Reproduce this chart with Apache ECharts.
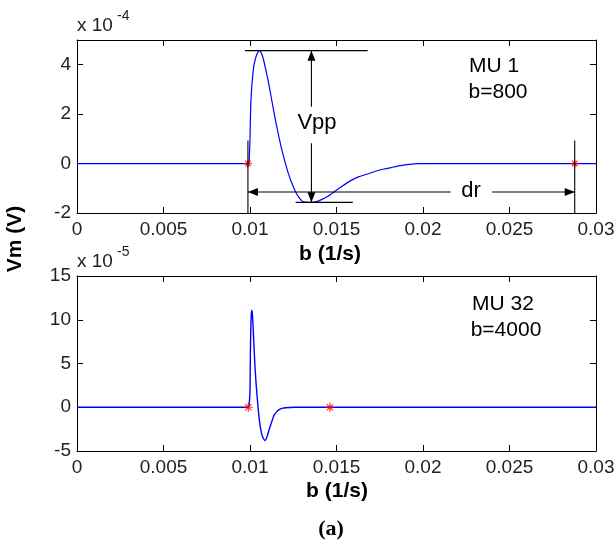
<!DOCTYPE html>
<html>
<head>
<meta charset="utf-8">
<script src="https://cdn.jsdelivr.net/npm/echarts@6/dist/echarts.min.js"></script>
<style>
html,body{margin:0;padding:0;background:#fff;}
#chart{width:616px;height:544px;}
</style>
</head>
<body>
<div id="chart"></div>
<script>
// ---- Data (x in seconds, y in units of the axis multiplier) ----
// Top panel: MU 1, b=800, values in units of 1e-4 V
const topX = [0, 0.00988, 0.00994, 0.00998, 0.01000, 0.01004, 0.01010, 0.01015, 0.01022, 0.01030, 0.01040,
  0.01052, 0.01062, 0.01072, 0.01081, 0.01095, 0.01110, 0.01130, 0.01149, 0.01168, 0.01187, 0.01205,
  0.01225, 0.01245, 0.01264, 0.01284, 0.01303, 0.01320, 0.01350, 0.01380, 0.01410, 0.01450, 0.01486,
  0.01530, 0.01582, 0.01630, 0.01679, 0.01730, 0.01775, 0.01830, 0.01871, 0.01920, 0.01970, 0.03000];
const topV = [0, 0, 0.05, 0.6, 1.0, 2.3, 3.1, 3.5, 3.95, 4.2, 4.42,
  4.57, 4.52, 4.35, 4.12, 3.68, 3.17, 2.4, 1.69, 1.05, 0.47, 0.0,
  -0.47, -0.85, -1.15, -1.38, -1.53, -1.56, -1.57, -1.55, -1.47, -1.32, -1.15,
  -0.93, -0.69, -0.53, -0.42, -0.3, -0.22, -0.14, -0.08, -0.03, 0, 0];
// Bottom panel: MU 32, b=4000, values in units of 1e-5 V
const botX = [0, 0.0099, 0.00995, 0.01000, 0.01002, 0.01006, 0.01010, 0.01014, 0.01018, 0.01023, 0.01029,
  0.01036, 0.01043, 0.01052, 0.01060, 0.01068, 0.01078, 0.01087, 0.01098, 0.01110, 0.01125, 0.01139,
  0.01155, 0.01168, 0.01190, 0.01206, 0.01260, 0.03000];
const botV = [0, 0, 0.3, 1.9, 6.0, 10.0, 11.1, 10.6, 9.2, 7.0, 4.6,
  2.5, 0.8, -1.1, -2.3, -3.1, -3.6, -3.8, -3.4, -2.6, -1.7, -0.9,
  -0.5, -0.27, -0.1, -0.05, 0, 0];
// Onset / end markers (red *)
const topMarkX = [0.00988, 0.02877];
const topMarkV = [0, 0];
const botMarkX = [0.0099, 0.01462];
const botMarkV = [0, 0];
// Tick values
const xTicks = [0, 0.005, 0.01, 0.015, 0.02, 0.025, 0.03];
const topYTicks = [-2, 0, 2, 4];
const botYTicks = [-5, 0, 5, 10, 15];
// Annotation geometry in data coordinates (top panel)
const vppX = 0.01355;          // Vpp arrow x
const vppGapTop = 2.3, vppGapBot = 0.82;  // gap for "Vpp" text
const peakLineX = [0.00971, 0.0168];
const troughLineX = [0.01264, 0.01594];
const guideTopY = 0.93;        // top of the two vertical guide lines
const drY = -1.15;             // dr arrow y
const drGapX = [0.0216, 0.0240];

const vPeak = Math.max(...topV);
const vTrough = Math.min(...topV);
const tStart = topMarkX[0], tEnd = topMarkX[1];
const yMinTop = topYTicks[0];

// segments: [x1,y1,x2,y2,arrowAtEnd]
const annoSegs = [
  [tStart, guideTopY, tStart, yMinTop, 0],
  [tEnd, guideTopY, tEnd, yMinTop, 0],
  [peakLineX[0], vPeak, peakLineX[1], vPeak, 0],
  [troughLineX[0], vTrough, troughLineX[1], vTrough, 0],
  [vppX, vppGapTop, vppX, vPeak, 1],
  [vppX, vppGapBot, vppX, vTrough, 1],
  [drGapX[0], drY, tStart, drY, 1],
  [drGapX[1], drY, tEnd, drY, 1]
];

const pair = (xs, ys) => xs.map((x, i) => [x, ys[i]]);
const fmtX = v => String(+v.toFixed(4));

const asterisk = 'path://M0,-5L0,5M-5,0L5,0M-3.5,-3.5L3.5,3.5M-3.5,3.5L3.5,-3.5';
const tickFont = {fontFamily: 'Liberation Sans, Arial, sans-serif', fontSize: 19, color: '#222'};

function xAxisDef(gridIndex, pos) {
  return {
    type: 'value', gridIndex, position: pos, min: xTicks[0], max: xTicks[xTicks.length - 1],
    interval: xTicks[1] - xTicks[0],
    axisLine: {show: true, onZero: false, lineStyle: {color: '#000', width: 1}},
    axisTick: {show: true, inside: true, length: 6, lineStyle: {color: '#000'}},
    axisLabel: Object.assign({show: pos === 'bottom', margin: 7, formatter: fmtX}, tickFont),
    splitLine: {show: false}
  };
}
function yAxisDef(gridIndex, pos, ticks, max) {
  return {
    type: 'value', gridIndex, position: pos, min: ticks[0], max: max,
    interval: ticks[1] - ticks[0],
    axisLine: {show: true, onZero: false, lineStyle: {color: '#000', width: 1}},
    axisTick: {show: true, inside: true, length: 6, lineStyle: {color: '#000'}},
    axisLabel: Object.assign({show: pos === 'left', margin: 6, showMaxLabel: max === ticks[ticks.length - 1]}, tickFont),
    splitLine: {show: false}
  };
}

function renderSeg(params, api) {
  const a = api.coord([api.value(0), api.value(1)]);
  const b = api.coord([api.value(2), api.value(3)]);
  const children = [{type: 'line', shape: {x1: a[0], y1: a[1], x2: b[0], y2: b[1]},
    style: {stroke: '#000', lineWidth: 1.1}}];
  if (api.value(4)) {
    const dx = b[0] - a[0], dy = b[1] - a[1], L = Math.hypot(dx, dy);
    const ux = dx / L, uy = dy / L, len = 10, hw = 4;
    const bx = b[0] - ux * len, by = b[1] - uy * len;
    children.push({type: 'polygon', shape: {points: [[b[0], b[1]], [bx - uy * hw, by + ux * hw], [bx + uy * hw, by - ux * hw]]},
      style: {fill: '#000'}});
  }
  return {type: 'group', children};
}

const labelFont = 'Liberation Sans, Arial, sans-serif';
function txt(text, x, y, size, bold, extra) {
  return Object.assign({type: 'text', x, y, style: {text, fontFamily: labelFont, fontSize: size,
    fontWeight: bold ? 'bold' : 'normal', fill: '#000', align: 'center', verticalAlign: 'middle'}}, extra || {});
}

const chart = echarts.init(document.getElementById('chart'), null, {renderer: 'canvas'});
chart.setOption({
  animation: false,
  backgroundColor: '#ffffff',
  grid: [
    {left: 77, top: 40, width: 519, height: 173, outerBoundsMode: 'none', containLabel: false},
    {left: 77, top: 276, width: 519, height: 175, outerBoundsMode: 'none', containLabel: false}
  ],
  xAxis: [xAxisDef(0, 'bottom'), xAxisDef(0, 'top'), xAxisDef(1, 'bottom'), xAxisDef(1, 'top')],
  yAxis: [yAxisDef(0, 'left', topYTicks, 5), yAxisDef(0, 'right', topYTicks, 5),
          yAxisDef(1, 'left', botYTicks, 15), yAxisDef(1, 'right', botYTicks, 15)],
  series: [
    {type: 'line', xAxisIndex: 0, yAxisIndex: 0, data: pair(topX, topV), showSymbol: false, smooth: 0.2,
      lineStyle: {color: '#0000ff', width: 1.2}, z: 2},
    {type: 'line', xAxisIndex: 2, yAxisIndex: 2, data: pair(botX, botV), showSymbol: false, smooth: 0.15,
      lineStyle: {color: '#0000ff', width: 1.4}, z: 2},
    {type: 'custom', xAxisIndex: 0, yAxisIndex: 0, data: annoSegs, renderItem: renderSeg,
      dimensions: ['x1', 'y1', 'x2', 'y2', 'a'], encode: {x: [0, 2], y: [1, 3]}, z: 4, silent: true},
    {type: 'scatter', xAxisIndex: 0, yAxisIndex: 0, data: pair(topMarkX, topMarkV), symbol: asterisk, symbolSize: 8,
      itemStyle: {color: 'transparent', borderColor: '#ff0000', borderWidth: 1.2}, z: 3},
    {type: 'scatter', xAxisIndex: 2, yAxisIndex: 2, data: pair(botMarkX, botMarkV), symbol: asterisk, symbolSize: 9,
      itemStyle: {color: 'transparent', borderColor: '#ff0000', borderWidth: 1.2}, z: 3}
  ],
  graphic: [
    txt('x 10', 77, 26, 19, false, {style: {text: 'x 10', fontFamily: labelFont, fontSize: 19, fill: '#222', align: 'left', verticalAlign: 'middle'}}),
    txt('-4', 117, 16, 14, false, {style: {text: '-4', fontFamily: labelFont, fontSize: 14, fill: '#222', align: 'left', verticalAlign: 'middle'}}),
    txt('x 10', 77, 262, 19, false, {style: {text: 'x 10', fontFamily: labelFont, fontSize: 19, fill: '#222', align: 'left', verticalAlign: 'middle'}}),
    txt('-5', 117, 252, 14, false, {style: {text: '-5', fontFamily: labelFont, fontSize: 14, fill: '#222', align: 'left', verticalAlign: 'middle'}}),
    txt('MU 1', 494, 66, 21),
    txt('b=800', 498, 92, 21),
    txt('MU 32', 503, 304, 21),
    txt('b=4000', 506, 330, 21),
    txt('Vpp', 317, 123, 22),
    txt('dr', 471, 191, 22),
    txt('b (1/s)', 330, 254, 21, true),
    txt('b (1/s)', 337, 491, 21, true),
    txt('Vm (V)', 15, 239, 21, true, {rotation: Math.PI / 2}),
    {type: 'text', x: 331, y: 529, style: {text: '(a)', fontFamily: 'Liberation Serif, Times New Roman, serif', fontSize: 22,
      fontWeight: 'bold', fill: '#000', align: 'center', verticalAlign: 'middle'}}
  ]
});
</script>
</body>
</html>
